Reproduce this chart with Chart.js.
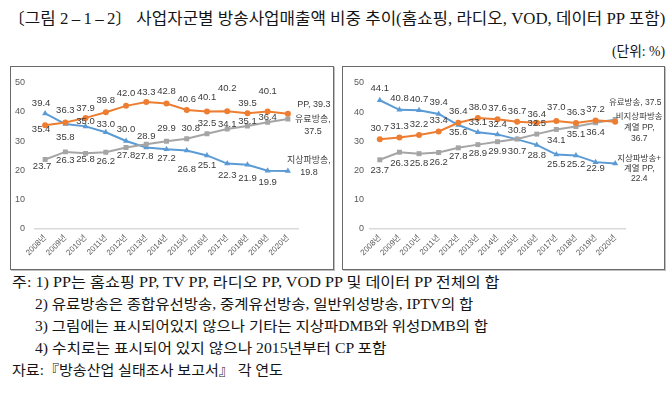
<!DOCTYPE html>
<html><head><meta charset="utf-8">
<script src="https://cdn.jsdelivr.net/npm/chart.js@4"></script>
<style>
html,body{margin:0;padding:0;background:#fff;}
body{width:670px;height:398px;position:relative;overflow:hidden;font-family:"Liberation Serif","Noto Sans CJK KR",serif;color:#151515;}
.t{position:absolute;white-space:nowrap;transform-origin:0 50%;line-height:1.2;}
.box{position:absolute;border:1px solid #6a6a6a;box-sizing:border-box;background:#fff;box-shadow:1px 1px 0 #c0c0c0;}
.box canvas{display:block;}
</style></head>
<body>
<div class="t" data-l="8" data-r="665" data-y="18" style="font-size:16px">〔그림 2&#8201;–&#8201;1&#8201;–&#8201;2〕 사업자군별 방송사업매출액 비중 추이(홈쇼핑, 라디오, VOD, 데이터 PP 포함)</div>
<div class="t" data-l="612" data-r="665" data-y="52" style="font-size:14px">(단위: %)</div>

<div class="box" style="left:10px;top:66px;width:324px;height:204px;"><canvas id="cL" width="322" height="202"></canvas></div>
<div class="box" style="left:342px;top:66px;width:323px;height:204px;"><canvas id="cR" width="321" height="202"></canvas></div>

<div class="t" data-l="12" data-r="500" data-y="283" style="font-size:14px">주: 1) PP는 홈쇼핑 PP, TV PP, 라디오 PP, VOD PP 및 데이터 PP 전체의 합</div>
<div class="t" data-l="35" data-r="473" data-y="305" style="font-size:14px">2) 유료방송은 종합유선방송, 중계유선방송, 일반위성방송, IPTV의 합</div>
<div class="t" data-l="35" data-r="488" data-y="327" style="font-size:14px">3) 그림에는 표시되어있지 않으나 기타는 지상파DMB와 위성DMB의 합</div>
<div class="t" data-l="35" data-r="387" data-y="349" style="font-size:14px">4) 수치로는 표시되어 있지 않으나 2015년부터 CP 포함</div>
<div class="t" data-l="12" data-r="283" data-y="371" style="font-size:14px">자료:『방송산업 실태조사 보고서』 각 연도</div>

<script>
// ---- data ----
const years = ['2008년','2009년','2010년','2011년','2012년','2013년','2014년','2015년','2016년','2017년','2018년','2019년','2020년'];
const yTicks = [0, 10, 20, 30, 40, 50];
// left panel
const ppShare      = [35.4, 36.3, 37.9, 39.8, 42.0, 43.3, 42.8, 40.6, 40.1, 40.2, 39.5, 40.1, 39.3];
const paidShareL   = [23.7, 26.3, 25.8, 26.2, 27.8, 28.9, 29.9, 30.8, 32.5, 34.1, 35.1, 36.4, 37.5];
const terrShareL   = [39.4, 35.8, 35.0, 33.0, 30.0, 27.8, 27.2, 26.8, 25.1, 22.3, 21.9, 19.9, 19.8];
// right panel
const terrGroupR   = [44.1, 40.8, 40.7, 39.4, 35.6, 33.1, 32.4, 30.7, 28.8, 25.5, 25.2, 22.9, 22.4];
const nonTerrPPR   = [30.7, 31.3, 32.2, 33.4, 36.4, 38.0, 37.6, 36.7, 36.4, 37.0, 36.3, 37.2, 36.7];
const paidShareR   = [23.7, 26.3, 25.8, 26.2, 27.8, 28.9, 29.9, 30.8, 32.5, 34.1, 35.1, 36.4, 37.5];

// ---- text fitting ----
document.querySelectorAll('.t').forEach(el => {
  const l = +el.dataset.l, r = +el.dataset.r, y = +el.dataset.y;
  el.style.left = l + 'px';
  const w = el.offsetWidth, h = el.offsetHeight;
  el.style.top = (y - h / 2) + 'px';
  el.style.transform = 'scaleX(' + ((r - l) / w) + ')';
});

const ORANGE = '#ED7D31', BLUE = '#5B9BD5', GRAY = '#A5A5A5';
const LBL = '#3a3a3a';

const labelPlugin = {
  id: 'ptLabels',
  afterDatasetsDraw(chart, args, opts) {
    const ctx = chart.ctx;
    ctx.save();
    ctx.fillStyle = LBL;
    ctx.textAlign = 'center';
    ctx.textBaseline = 'middle';
    chart.data.datasets.forEach((ds, i) => {
      const meta = chart.getDatasetMeta(i);
      const n = ds.data.length;
      ctx.font = opts.font;
      meta.data.forEach((pt, j) => {
        if (j === n - 1) return;
        const dy = ds.lblDy[j];
        const dx = (ds.lblDx && ds.lblDx[j]) || 0;
        ctx.fillText(ds.data[j].toFixed(1), pt.x + dx, pt.y + dy);
      });
      const last = meta.data[n - 1];
      const e = ds.endLabel;
      const lines = e.lines(ds.data[n - 1].toFixed(1));
      ctx.font = e.font;
      lines.forEach((s, k) => ctx.fillText(s, last.x + e.dx, last.y + e.dy + k * e.lh));
    });
    ctx.restore();
  }
};

function ds(label, data, color, style, radius, dy, dx, endLabel) {
  return {
    label, data, borderColor: color, backgroundColor: color,
    pointBackgroundColor: color, pointBorderColor: color,
    pointStyle: style, pointRadius: radius, pointBorderWidth: 0,
    borderWidth: 2, tension: 0, fill: false,
    lblDy: dy, lblDx: dx, endLabel
  };
}

function makeChart(id, datasets, geo) {
  return new Chart(document.getElementById(id), {
    type: 'line',
    data: { labels: years, datasets },
    options: {
      responsive: false, animation: false, devicePixelRatio: 1,
      layout: { padding: { left: 0, right: geo.padR, top: geo.padT, bottom: geo.padB } },
      plugins: { legend: { display: false }, tooltip: { enabled: false },
        ptLabels: { font: "9.5px 'Liberation Sans', Arial, sans-serif" } },
      scales: {
        x: {
          offset: true,
          grid: { display: false, drawTicks: false },
          border: { display: true, color: '#d9d9d9', width: 1.5 },
          ticks: { color: '#595959', font: { family: "'Liberation Sans','Noto Sans CJK KR'", size: 8 },
                   minRotation: 45, maxRotation: 45, padding: 4, autoSkip: false },
          afterFit: s => { s.height = geo.xH; }
        },
        y: {
          min: yTicks[0], max: yTicks[yTicks.length - 1],
          afterBuildTicks: s => { s.ticks = yTicks.map(v => ({ value: v })); },
          grid: { display: false, drawTicks: false },
          border: { display: false },
          ticks: { color: '#595959', font: { family: "'Liberation Sans', Arial", size: 9 }, padding: geo.yPad },
          afterFit: s => { s.width = geo.yW; }
        }
      }
    },
    plugins: [labelPlugin]
  });
}

const endFontL = "9px 'Liberation Sans','Noto Sans CJK KR', sans-serif";
const endFontR = "8.5px 'Liberation Sans','Noto Sans CJK KR', sans-serif";

makeChart('cL', [
  ds('PP', ppShare, ORANGE, 'circle', 3,
     [4, -12, -10, -12, -12, -10, -12, -11, -14, -23, -10, -20, 0],
     [-4, 0, 0, 0, 0, 0, 0, 0, 0, 0, 0, 0, 0],
     { font: endFontL, dx: 26, dy: -9, lh: 12, lines: v => ['PP, ' + v] }),
  ds('유료방송', paidShareL, GRAY, 'rect', 3.5,
     [7, 8, 6, 9, 8, -8, -13, -10, -10, -5, -5, -5, 0],
     [-3, 0, 0, 0, 0, 0, 0, 4, 0, 0, 0, 0, 0],
     { font: endFontL, dx: 25, dy: 0, lh: 12, lines: v => ['유료방송,', v] }),
  ds('지상파방송', terrShareL, BLUE, 'triangle', 3.5,
     [-10, 13, -5, -8, -12, 9, 9, 19, 10, 12, 14, 12, 0],
     [-4, 0, 0, 0, 0, -2, 0, 0, 0, 0, 0, 0, 0],
     { font: endFontL, dx: 21, dy: -10, lh: 12, lines: v => ['지상파방송,', v] })
], { padR: 35, padT: 10, padB: 10, xH: 30, yW: 24, yPad: 10 });

makeChart('cR', [
  ds('비지상파방송 계열 PP', nonTerrPPR, ORANGE, 'circle', 3,
     [-11, -11, -11, -11, -11, -11, -11, -10, -8, -14, -11, -11, 0],
     null,
     { font: endFontR, dx: 24, dy: -5, lh: 11, lines: v => ['비지상파방송', '계열 PP,', v] }),
  ds('유료방송', paidShareR, GRAY, 'rect', 3.5,
     [11, 11, 10, 10, 9, 9, 10, -9, -11, 11, 8, 10, 0],
     null,
     { font: endFontR, dx: 20, dy: -17, lh: 11, lines: v => ['유료방송, ' + v] }),
  ds('지상파방송+계열 PP', terrGroupR, BLUE, 'triangle', 3.5,
     [-12, -11, -11, -12, 7, -10, -10, 12, 10, 10, 9, 6, 0],
     null,
     { font: endFontR, dx: 24, dy: -5, lh: 10, lines: v => ['지상파방송+', '계열 PP,', v] })
], { padR: 39, padT: 16, padB: 10, xH: 30, yW: 27, yPad: 6 });
</script>
</body></html>
